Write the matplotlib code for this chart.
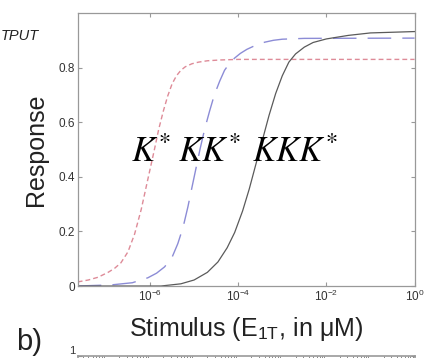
import matplotlib
matplotlib.use("Agg")
import matplotlib.pyplot as plt
from matplotlib.ticker import LogLocator, NullFormatter, NullLocator

plt.rcParams['font.family'] = ['Liberation Sans', 'DejaVu Sans']
plt.rcParams['mathtext.fontset'] = 'stix'

# stimulus E1T (uM) and responses
k_x = [2.29e-8, 3.98e-8, 6.61e-8, 1.12e-7, 1.58e-7, 2.19e-7, 3.16e-7, 4.47e-7,
       6.31e-7, 8.91e-7, 1.26e-6, 1.58e-6, 2.0e-6, 2.51e-6, 3.16e-6, 3.98e-6,
       5.01e-6, 6.31e-6, 8.91e-6, 1.26e-5, 2.0e-5, 3.98e-5, 1e-4, 1.0]
k_y = [0.015, 0.022, 0.032, 0.05, 0.065, 0.085, 0.125, 0.19,
       0.28, 0.39, 0.50, 0.575, 0.64, 0.695, 0.74, 0.77,
       0.79, 0.803, 0.814, 0.82, 0.825, 0.828, 0.83, 0.83]

kk_x = [2.29e-8, 1.32e-7, 3.98e-7, 8.91e-7, 1.41e-6, 2.14e-6, 3.16e-6, 4.27e-6,
        5.62e-6, 7.24e-6, 8.91e-6, 1.1e-5, 1.38e-5, 1.74e-5, 2.24e-5, 2.88e-5,
        3.8e-5, 4.9e-5, 6.31e-5, 8.32e-5, 1.12e-4, 1.58e-4, 2.51e-4, 3.98e-4,
        6.31e-4, 1e-3, 3.16e-3, 1.0]
kk_y = [0.0, 0.004, 0.012, 0.03, 0.047, 0.07, 0.105, 0.155,
        0.215, 0.29, 0.36, 0.43, 0.505, 0.575, 0.64, 0.70,
        0.75, 0.79, 0.815, 0.835, 0.852, 0.867, 0.882, 0.893,
        0.9, 0.904, 0.907, 0.908]

kkk_x = [2.29e-8, 1.78e-6, 5.01e-6, 1e-5, 2.0e-5, 3.47e-5, 5.62e-5, 8.32e-5,
         1.26e-4, 1.78e-4, 2.51e-4, 3.55e-4, 5.01e-4, 7.08e-4, 1e-3, 1.41e-3,
         2.0e-3, 3.16e-3, 5.01e-3, 1e-2, 3.16e-2, 0.1, 1.0]
kkk_y = [0.0, 0.0, 0.008, 0.022, 0.05, 0.088, 0.14, 0.196,
         0.275, 0.355, 0.445, 0.535, 0.625, 0.705, 0.77, 0.82,
         0.85, 0.875, 0.892, 0.905, 0.918, 0.927, 0.932]

x_ticks = [1e-6, 1e-4, 1e-2, 1]
y_ticks = [0, 0.2, 0.4, 0.6, 0.8]
y_tick_labels = ['0', '0.2', '0.4', '0.6', '0.8']
x_lim = (2.29e-8, 1.0)

SPINE = '#999999'
TXT = '#333333'

fig = plt.figure(figsize=(4.33, 3.58), dpi=100)
ax = fig.add_axes([0.1794, 0.2011, 0.778, 0.7626])

ax.plot(k_x, k_y, color='#de8b98', lw=1.0, dashes=(3.5, 2.2))
ax.plot(kk_x, kk_y, color='#8c8cd6', lw=1.0, dashes=(17, 8))
ax.plot(kkk_x, kkk_y, color='#5a5a5a', lw=0.9)

ax.set_xscale('log')
ax.set_xlim(*x_lim)
ax.set_ylim(0, 1.0)
ax.set_xticks(x_ticks)
ax.xaxis.set_minor_locator(NullLocator())
ax.set_yticks(y_ticks)
ax.set_yticklabels(y_tick_labels)
ax.tick_params(direction='in', top=True, right=True, length=3, width=0.8,
               color=SPINE, labelcolor=TXT, labelsize=8.5, pad=2)
for s in ax.spines.values():
    s.set_color(SPINE)
    s.set_linewidth(0.9)

ax.set_ylabel('Response', fontsize=18, color='#222222')
ax.yaxis.set_label_coords(-0.088, 0.5)
ax.set_xlabel(r'Stimulus (E$_{\mathregular{1T}}$, in μM)', fontsize=18,
              color='#222222')
ax.xaxis.set_label_coords(0.5, -0.105)

ax.text(0.158, 0.454, r'$K^{*}$', transform=ax.transAxes, fontsize=25,
        ha='left', va='baseline')
ax.text(0.298, 0.454, r'$KK^{*}$', transform=ax.transAxes, fontsize=25,
        ha='left', va='baseline')
ax.text(0.517, 0.454, r'$KKK^{*}$', transform=ax.transAxes, fontsize=25,
        ha='left', va='baseline')

# pieces of the neighbouring panels that show at the crop edges
fig.text(1 / 433, 1 - 36 / 358, 'TPUT', fontsize=10.5, style='italic',
         ha='left', va='center', color='#222222')
fig.text(16 / 433, 1 - 350 / 358, 'b)', fontsize=21, ha='left',
         va='baseline', color='#222222')

ax2 = fig.add_axes([0.1794, 0.0056 - 0.3, 0.778, 0.3])
ax2.set_xscale('log')
ax2.set_xlim(*x_lim)
ax2.set_ylim(0, 1)
ax2.set_yticks([1])
ax2.set_yticklabels(['1'], va='bottom')
ax2.set_xticks([])
ax2.xaxis.set_minor_locator(LogLocator(base=10, subs=range(2, 10)))
ax2.xaxis.set_minor_formatter(NullFormatter())
ax2.tick_params(which='both', direction='in', top=True, bottom=False,
                right=True, length=3, color='#777777', labelcolor=TXT,
                labelsize=8, pad=2)
for s in ax2.spines.values():
    s.set_color(SPINE)
    s.set_linewidth(1.2)

fig.savefig('out.png', dpi=100)
